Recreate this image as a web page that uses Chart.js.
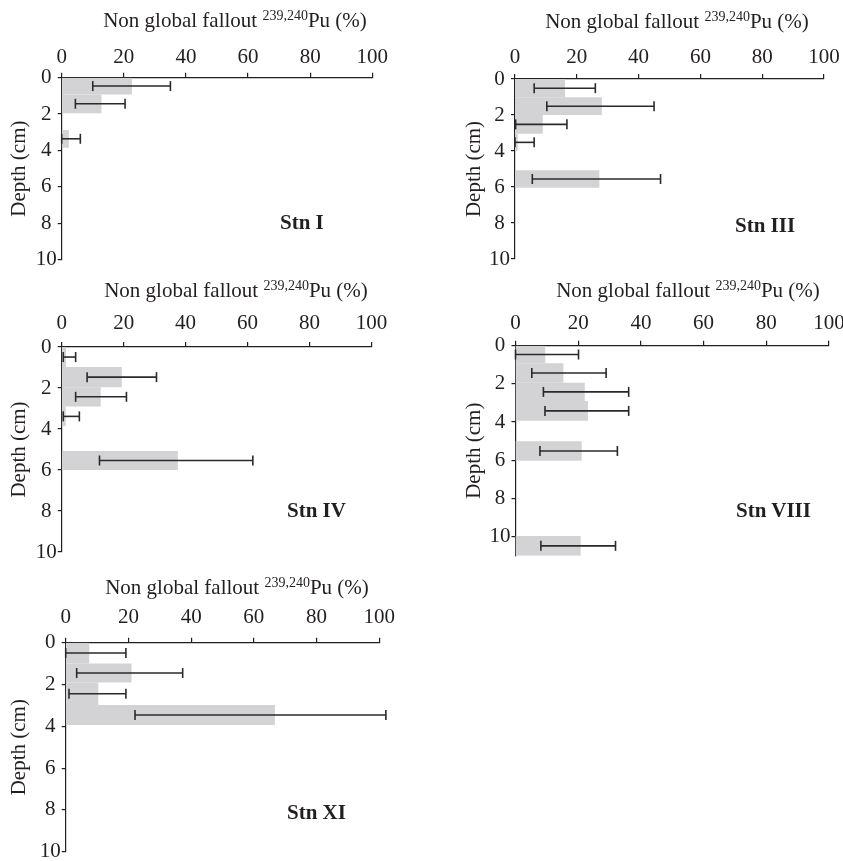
<!DOCTYPE html>
<html>
<head>
<meta charset="utf-8">
<script src="https://cdn.jsdelivr.net/npm/chart.js@4.4.1/dist/chart.umd.min.js"></script>
<style>
html, body { margin: 0; padding: 0; background: #fff; overflow: hidden; width: 843px; height: 861px; }
#page { position: relative; width: 843px; height: 861px; font-family: 'Liberation Serif', 'DejaVu Serif', serif; color: #231f20; }
canvas { position: absolute; }
.title, .stn { position: absolute; white-space: nowrap; font-size: 21px; line-height: 21px; }
.title { transform: translateX(-50%); }
.title sup { font-size: 14px; line-height: 0; vertical-align: 7px; }
.stn { font-weight: bold; }
</style>
</head>
<body>
<div id="page"></div>
<script>
// tick labels
const pctTicks = [0, 20, 40, 60, 80, 100];
const depthTicks = [0, 2, 4, 6, 8, 10];

// Stn I
const stnI_top = [0, 0.92, 2.87];
const stnI_bottom = [0.92, 1.95, 3.85];
const stnI_value = [22.6, 12.8, 2.3];
const stnI_errLow = [10.0, 4.4, 0];
const stnI_errHigh = [35.0, 20.4, 6.0];

// Stn III
const stnIII_top = [0, 1.02, 2.0, 3.04, 5.07];
const stnIII_bottom = [1.02, 2.0, 3.04, 4.0, 6.04];
const stnIII_value = [16.2, 28.1, 9.0, 0.9, 27.3];
const stnIII_errLow = [6.2, 10.3, 0.2, 0, 5.6];
const stnIII_errHigh = [26.0, 45.0, 16.8, 6.2, 47.1];

// Stn IV
const stnIV_top = [0, 0.98, 1.96, 2.9, 5.07];
const stnIV_bottom = [0.98, 1.96, 2.9, 3.87, 6.0];
const stnIV_value = [1.4, 19.4, 12.6, 1.3, 37.5];
const stnIV_errLow = [0.5, 8.2, 4.5, 0.5, 12.2];
const stnIV_errHigh = [4.5, 30.6, 20.9, 5.7, 61.7];

// Stn VIII
const stnVIII_top = [0, 0.92, 1.94, 2.9, 5.0, 9.97];
const stnVIII_bottom = [0.92, 1.94, 2.9, 3.93, 6.03, 11.0];
const stnVIII_value = [9.5, 15.3, 22.1, 23.1, 21.1, 20.8];
const stnVIII_errLow = [0, 5.2, 8.9, 9.4, 7.8, 8.1];
const stnVIII_errHigh = [20.1, 28.9, 36.1, 36.1, 32.5, 31.9];

// Stn XI
const stnXI_top = [0, 0.99, 1.91, 2.98];
const stnXI_bottom = [0.99, 1.91, 2.98, 3.94];
const stnXI_value = [7.5, 21.0, 10.4, 66.7];
const stnXI_errLow = [0, 3.5, 1.05, 22.1];
const stnXI_errHigh = [19.2, 37.3, 19.2, 102.1];

const ink = '#231f20';
const barGray = '#d3d3d5';
const errColor = '#2a2a2a';
const font = { family: "'Liberation Serif', 'DejaVu Serif', serif", size: 21 };

// panel placement on the page
const panels = [
    { name: 'Stn I', top: stnI_top, bottom: stnI_bottom, value: stnI_value, lo: stnI_errLow, hi: stnI_errHigh, yMax: 10,
      box: { left: 0, top: 0, width: 400, height: 275 }, yAxisW: 61.7, xAxisH: 77.7, padR: 27.7, padB: 15.5, tickPad: 3,
      titleX: 235, titleBase: 28, stnX: 280, stnBase: 230 },
    { name: 'Stn III', top: stnIII_top, bottom: stnIII_bottom, value: stnIII_value, lo: stnIII_errLow, hi: stnIII_errHigh, yMax: 10,
      box: { left: 455, top: 0, width: 400, height: 275 }, yAxisW: 60, xAxisH: 79, padR: 31, padB: 16, tickPad: 4.4,
      titleX: 677, titleBase: 29, stnX: 735, stnBase: 233 },
    { name: 'Stn IV', top: stnIV_top, bottom: stnIV_bottom, value: stnIV_value, lo: stnIV_errLow, hi: stnIV_errHigh, yMax: 10,
      box: { left: 0, top: 280, width: 400, height: 288 }, yAxisW: 61.7, xAxisH: 67, padR: 28.5, padB: 16, tickPad: 6.4,
      titleX: 236, titleBase: 298, stnX: 287, stnBase: 518 },
    { name: 'Stn VIII', top: stnVIII_top, bottom: stnVIII_bottom, value: stnVIII_value, lo: stnVIII_errLow, hi: stnVIII_errHigh, yMax: 11,
      box: { left: 455, top: 280, width: 400, height: 292 }, yAxisW: 60.5, xAxisH: 65.7, padR: 26, padB: 16.3, tickPad: 4.4,
      titleX: 688, titleBase: 298, stnX: 736, stnBase: 518 },
    { name: 'Stn XI', top: stnXI_top, bottom: stnXI_bottom, value: stnXI_value, lo: stnXI_errLow, hi: stnXI_errHigh, yMax: 10,
      box: { left: 0, top: 565, width: 410, height: 305 }, yAxisW: 65.7, xAxisH: 77.7, padR: 30.7, padB: 18.3, tickPad: 8.1,
      titleX: 237, titleBase: 595, stnX: 287, stnBase: 820 },
];

const page = document.getElementById('page');

function addText(cls, html, x, base) {
    const el = document.createElement('div');
    el.className = cls;
    el.innerHTML = html;
    el.style.left = x + 'px';
    el.style.top = (base - 17.6) + 'px';
    page.appendChild(el);
}

function makePanel(p) {
    const canvas = document.createElement('canvas');
    canvas.width = p.box.width;
    canvas.height = p.box.height;
    canvas.style.left = p.box.left + 'px';
    canvas.style.top = p.box.top + 'px';
    page.appendChild(canvas);

    const datasets = [];
    // grey bars, one closed shape per depth slice
    p.top.forEach((t, i) => {
        const b = p.bottom[i], v = p.value[i];
        datasets.push({
            data: [{ x: 0, y: t }, { x: v, y: t }, { x: v, y: b }, { x: 0, y: b }],
            fill: 'shape',
            backgroundColor: barGray,
            borderWidth: 0,
            pointRadius: 0,
            tension: 0,
            order: 2,
        });
    });
    // error bars with end caps
    p.lo.forEach((lo, i) => {
        const mid = (p.top[i] + p.bottom[i]) / 2;
        datasets.push({
            data: [{ x: lo, y: mid }, { x: p.hi[i], y: mid }],
            fill: false,
            borderColor: errColor,
            borderWidth: 1.6,
            pointStyle: 'line',
            rotation: 90,
            pointRadius: 5,
            pointBorderWidth: 1.6,
            pointBorderColor: errColor,
            clip: false,
            order: 1,
        });
    });

    new Chart(canvas, {
        type: 'line',
        data: { datasets },
        options: {
            animation: false,
            responsive: false,
            events: [],
            layout: { padding: { left: 0, top: 0, right: p.padR, bottom: p.padB } },
            plugins: {
                legend: { display: false },
                tooltip: { enabled: false },
                filler: { drawTime: 'beforeDatasetsDraw' },
            },
            scales: {
                x: {
                    type: 'linear',
                    position: 'top',
                    min: 0,
                    max: 100,
                    afterBuildTicks: s => { s.ticks = pctTicks.map(v => ({ value: v })); },
                    afterFit: s => { s.height = p.xAxisH; },
                    ticks: { font, color: ink, padding: p.tickPad, maxRotation: 0, autoSkip: false },
                    grid: { drawOnChartArea: false, tickLength: 5, color: ink, lineWidth: 1.2 },
                    border: { color: ink, width: 1.2 },
                },
                y: {
                    type: 'linear',
                    reverse: true,
                    min: 0,
                    max: p.yMax,
                    afterBuildTicks: s => { s.ticks = depthTicks.map(v => ({ value: v })); },
                    afterFit: s => { s.width = p.yAxisW; },
                    title: { display: true, text: 'Depth (cm)', font, color: ink, padding: { top: 7, bottom: 0 } },
                    ticks: { font, color: ink, padding: 1, crossAlign: 'center', autoSkip: false },
                    grid: { drawOnChartArea: false, tickLength: 4, color: ink, lineWidth: 1.2 },
                    border: { color: ink, width: 1.2 },
                },
            },
        },
    });

    addText('title', 'Non global fallout <sup>239,240</sup>Pu (%)', p.titleX, p.titleBase);
    addText('stn', p.name, p.stnX, p.stnBase);
}

panels.forEach(makePanel);
</script>
</body>
</html>
